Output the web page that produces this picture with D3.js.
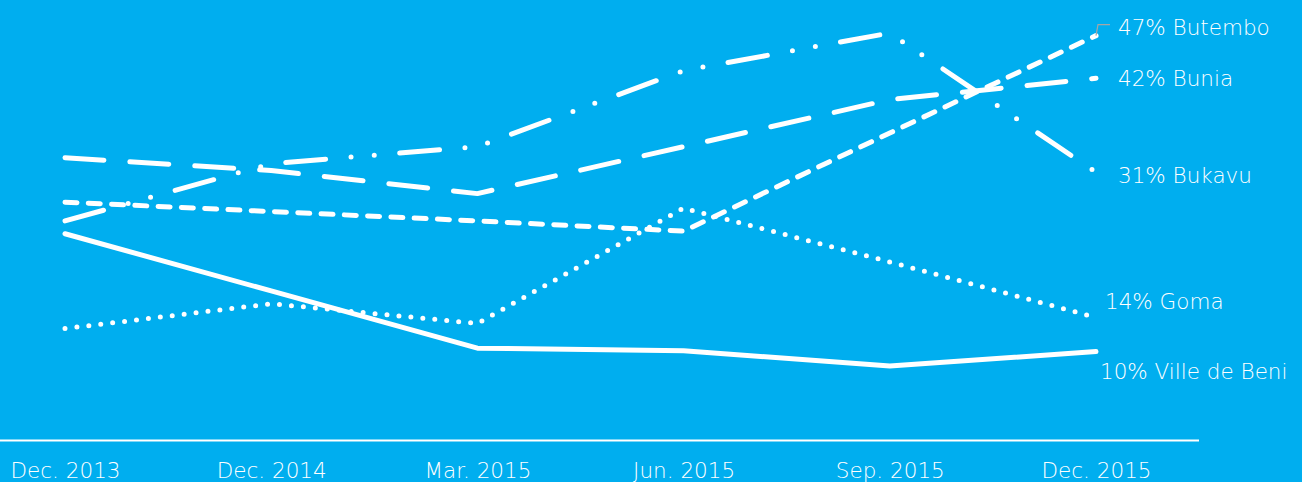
<!DOCTYPE html>
<html>
<head>
<meta charset="utf-8">
<script src="https://cdn.jsdelivr.net/npm/d3@7"></script>
<style>
  html, body { margin: 0; padding: 0; background: #00AEEF; }
  svg { display: block; }
  text { font-family: "DejaVu Sans", sans-serif; font-weight: 200; fill: #ffffff; }
</style>
</head>
<body>
<svg id="chart" width="1302" height="482"></svg>
<script>
// ---- data ----
const categories = ["Dec. 2013", "Dec. 2014", "Mar. 2015", "Jun. 2015", "Sep. 2015", "Dec. 2015"];
const seriesNames = ["Butembo", "Bunia", "Bukavu", "Goma", "Ville de Beni"];
const butembo    = [27.5, 26.4, 25.3, 24.1, 35.6, 47];
const bunia      = [32.7, 31.2, 28.5, 34.0, 39.5, 42];
const bukavu     = [25.3, 32.0, 34.0, 42.9, 47.3, 31];
const goma       = [12.7, 15.6, 13.3, 26.8, 20.5, 14];
const villeDeBeni = [23.8, 17.1, 10.4, 10.1, 8.3, 10];
const endLabels  = ["47% Butembo", "42% Bunia", "31% Bukavu", "14% Goma", "10% Ville de Beni"];

// ---- layout / style ----
const svg = d3.select("#chart");
const x = d3.scalePoint().domain(categories).range([65, 1096]);
const y = d3.scaleLinear().domain([0, 50]).range([437, 10]);

const dashStyles = {
  "Butembo": "12,11.3",
  "Bunia": "39,26",
  "Bukavu": "40,25.5,0,23.3,0,25.5",
  "Goma": "0,12",
  "Ville de Beni": null
};
const labelPos = {
  "Butembo": [1118, 35],
  "Bunia": [1118, 86],
  "Bukavu": [1118, 183],
  "Goma": [1105, 309],
  "Ville de Beni": [1100, 379]
};

const seriesValues = [butembo, bunia, bukavu, goma, villeDeBeni];
const series = seriesNames.map((n, i) => ({ name: n, values: seriesValues[i], label: endLabels[i] }));

// axis baseline
svg.append("line")
  .attr("x1", 0).attr("x2", 1199)
  .attr("y1", 440.5).attr("y2", 440.5)
  .attr("stroke", "#ffffff").attr("stroke-width", 2);

// x-axis labels via d3 axis
const xAxis = d3.axisBottom(x).tickSize(0).tickPadding(0);
const gx = svg.append("g").attr("transform", "translate(0,462)").call(xAxis);
gx.select(".domain").remove();
gx.selectAll("text")
  .attr("dy", null)
  .attr("y", 16)
  .style("font-family", "'DejaVu Sans', sans-serif")
  .style("font-weight", 200)
  .style("font-size", "21.5px")
  .attr("fill", "#ffffff");

// lines
const line = d3.line()
  .x((d, i) => x(categories[i]))
  .y(d => y(d));

svg.append("g").selectAll("path")
  .data(series)
  .join("path")
  .attr("d", d => line(d.values))
  .attr("fill", "none")
  .attr("stroke", "#ffffff")
  .attr("stroke-width", 5)
  .attr("stroke-linecap", "round")
  .attr("stroke-linejoin", "round")
  .attr("stroke-dasharray", d => dashStyles[d.name]);

// leader for Butembo label
const bEnd = [x(categories[5]), y(butembo[5])];
svg.append("path")
  .attr("d", `M${bEnd[0]},${bEnd[1]} L${bEnd[0] + 2},${bEnd[1] - 11} L${bEnd[0] + 14},${bEnd[1] - 11}`)
  .attr("fill", "none")
  .attr("stroke", "#a6a6a6")
  .attr("stroke-width", 1.2);

// end labels
svg.append("g").selectAll("text")
  .data(series)
  .join("text")
  .attr("x", d => labelPos[d.name][0])
  .attr("y", d => labelPos[d.name][1])
  .style("font-size", "21.5px")
  .text(d => d.label);
</script>
</body>
</html>
